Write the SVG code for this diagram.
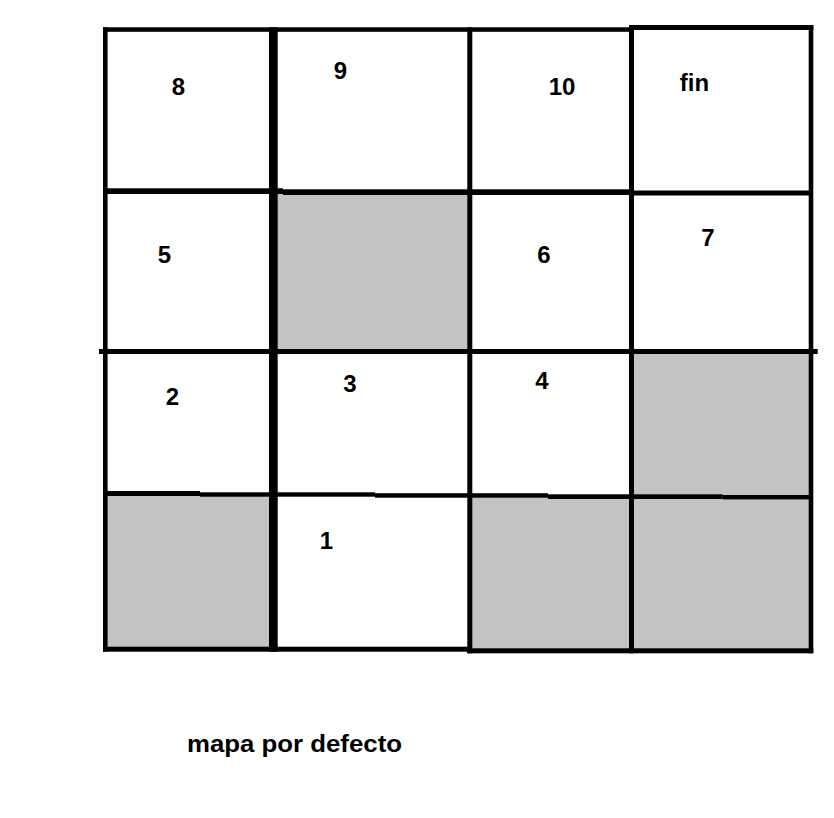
<svg xmlns="http://www.w3.org/2000/svg" width="834" height="818" viewBox="0 0 834 818">
<style>
.lbl{font-family:"Liberation Sans",Arial,sans-serif;font-weight:bold;font-size:24px;fill:#000;text-anchor:middle}
.wall{fill:#c3c3c3}
.ln{fill:#000}
</style>
<rect x="0" y="0" width="834" height="818" fill="#fff"/>
<g id="cells">
<g id="cell-8"><text class="lbl" x="178.5" y="95">8</text></g>
<g id="cell-9"><text class="lbl" x="340.5" y="79">9</text></g>
<g id="cell-10"><text class="lbl" x="562" y="95">10</text></g>
<g id="cell-fin"><text class="lbl" x="694.5" y="91">fin</text></g>
<g id="cell-5"><text class="lbl" x="164.5" y="263">5</text></g>
<g id="cell-wall-a"><rect class="wall" x="276" y="192" width="193" height="160"/></g>
<g id="cell-6"><text class="lbl" x="544" y="263">6</text></g>
<g id="cell-7"><text class="lbl" x="708" y="246">7</text></g>
<g id="cell-2"><text class="lbl" x="172.5" y="405">2</text></g>
<g id="cell-3"><text class="lbl" x="350" y="391.5">3</text></g>
<g id="cell-4"><text class="lbl" x="542" y="389">4</text></g>
<g id="cell-wall-b"><rect class="wall" x="632" y="352" width="178" height="146"/></g>
<g id="cell-wall-c"><rect class="wall" x="106" y="494" width="165" height="155"/></g>
<g id="cell-1"><text class="lbl" x="326.5" y="549">1</text></g>
<g id="cell-wall-d"><rect class="wall" x="470" y="496" width="163" height="154"/></g>
<g id="cell-wall-e"><rect class="wall" x="632" y="497" width="178" height="153"/></g>
</g>
<g id="connectors">
<!-- top border -->
<rect class="ln" x="103" y="27.3" width="528" height="4.5"/>
<rect class="ln" x="629" y="25" width="184.3" height="5"/>
<!-- verticals -->
<rect class="ln" x="103" y="27.3" width="4.6" height="624.4"/>
<rect class="ln" x="269" y="27.3" width="8.7" height="624.4"/>
<rect class="ln" x="467.3" y="27.3" width="5" height="626"/>
<rect class="ln" x="629" y="25" width="5" height="628.3"/>
<rect class="ln" x="808.7" y="25" width="4.6" height="628.3"/>
<!-- row 1 bottom -->
<rect class="ln" x="103" y="188.3" width="170" height="5.7"/>
<rect class="ln" x="273" y="188.3" width="10" height="5.7"/>
<rect class="ln" x="283" y="189.3" width="346" height="5.7"/>
<rect class="ln" x="629" y="190.5" width="184" height="5"/>
<!-- row 2 top -->
<rect class="ln" x="99" y="349" width="718.7" height="5"/>
<!-- row 3 top -->
<rect class="ln" x="107" y="491" width="93" height="5"/>
<rect class="ln" x="200" y="492.3" width="175" height="4.4"/>
<rect class="ln" x="375" y="493.2" width="173" height="4.5"/>
<rect class="ln" x="548" y="494.3" width="174.7" height="4.7"/>
<rect class="ln" x="722.7" y="495" width="89" height="4.4"/>
<!-- bottom border -->
<rect class="ln" x="103" y="646.7" width="366" height="5"/>
<rect class="ln" x="467.3" y="648.3" width="346" height="5"/>
</g>
<text class="lbl" x="187" y="752" style="text-anchor:start" textLength="215" lengthAdjust="spacingAndGlyphs">mapa por defecto</text>
</svg>
